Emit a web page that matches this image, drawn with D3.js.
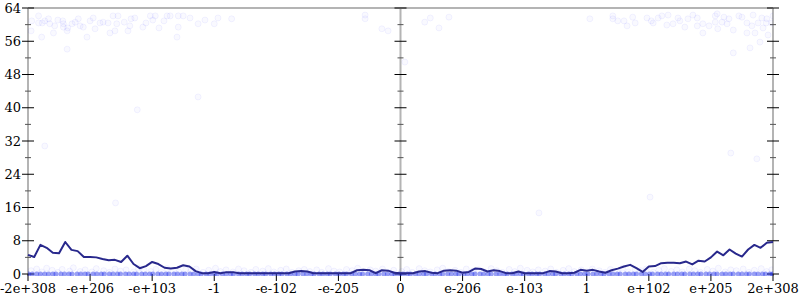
<!DOCTYPE html>
<html>
<head>
<meta charset="utf-8">
<script src="https://cdn.jsdelivr.net/npm/d3@7"></script>
<style>
  body { margin: 0; background: #fff; }
  svg text { font-family: "DejaVu Serif", serif; font-size: 13px; fill: #000; }
</style>
</head>
<body>
<svg id="content" width="800" height="300"></svg>
<script>
let xTickLabels = ["-2e+308", "-e+206", "-e+103", "-1", "-e-102", "-e-205", "0",
  "e-206", "e-103", "1", "e+102", "e+205", "2e+308"];
let xTickPos = [-6, -5, -4, -3, -2, -1, 0, 1, 2, 3, 4, 5, 6];
let yMajor = [0, 8, 16, 24, 32, 40, 48, 56, 64];
let yMinor = [4, 12, 20, 28, 36, 44, 52, 60];

// averaged error, evenly spaced from -2e+308 to 2e+308
let lineErr = [4.6, 4.1, 7.0, 6.3, 5.1, 5.0, 7.7, 5.8, 5.5, 4.1,
  4.1, 4.0, 3.6, 3.3, 3.4, 2.9, 4.4, 2.4, 1.4, 1.9,
  2.9, 2.4, 1.5, 1.3, 1.5, 2.1, 1.8, 0.7, 0.2, 0.2,
  0.5, 0.2, 0.45, 0.45, 0.2, 0.2, 0.2, 0.2, 0.2, 0.2,
  0.2, 0.2, 0.2, 0.6, 0.7, 0.6, 0.2, 0.2, 0.2, 0.2,
  0.2, 0.2, 0.2, 0.9, 1.0, 0.9, 0.2, 0.9, 0.8, 0.3,
  0.2, 0.2, 0.2, 0.6, 0.7, 0.3, 0.2, 0.8, 0.9, 0.8,
  0.3, 0.5, 1.3, 1.2, 0.6, 0.9, 0.7, 0.2, 0.2, 0.6,
  0.2, 0.2, 0.2, 0.2, 0.7, 0.6, 0.2, 0.2, 0.3, 1.0,
  0.8, 1.0, 0.6, 0.3, 0.9, 1.3, 1.8, 2.2, 1.4, 0.5,
  1.8, 1.9, 2.6, 2.7, 2.7, 2.6, 3.0, 2.3, 3.2, 3.0,
  4.0, 5.4, 4.5, 5.9, 4.9, 4.2, 5.9, 7.0, 6.3, 7.5, 7.7];

// sample points [position, bits of error]
let highPts = [[-5.94, 60.9], [-5.83, 62.1], [-5.83, 60.4], [-5.77, 60.4], [-5.73, 60.9],
  [-5.67, 61.4], [-5.65, 60.2], [-5.57, 59.7], [-5.59, 58.0], [-5.52, 61.1], [-5.44, 60.9],
  [-5.43, 60.2], [-5.43, 59.4], [-5.37, 58.5], [-5.36, 59.2], [-5.29, 60.2], [-5.24, 60.6],
  [-5.19, 61.4], [-5.16, 59.7], [-5.11, 59.4], [-5.05, 57.0], [-5.00, 60.9], [-4.95, 61.6],
  [-4.92, 59.0], [-4.84, 60.4], [-4.79, 60.6], [-4.71, 60.4], [-4.68, 58.0], [-4.63, 62.1],
  [-4.60, 58.5], [-4.57, 60.2], [-4.55, 62.1], [-4.45, 60.6], [-4.39, 58.5], [-4.36, 59.7],
  [-4.34, 61.4], [-4.28, 61.6], [-4.15, 59.4], [-4.10, 60.4], [-4.03, 62.1], [-3.99, 61.1],
  [-3.95, 62.1], [-3.89, 59.2], [-3.81, 60.9], [-3.76, 62.1], [-3.71, 62.1], [-3.60, 57.0],
  [-3.58, 59.4], [-3.50, 62.1], [-3.39, 61.6], [-5.95, 58.5], [-5.78, 57.0], [-5.37, 54.1],
  [-3.26, 60.2], [-3.15, 61.1], [-2.94, 61.6], [-2.72, 61.4], [-3.00, 60.2], [-3.58, 62.1],
  [-0.57, 62.3], [-0.57, 61.4], [-0.30, 59.0], [-0.20, 58.5], [0.07, 51.0], [0.39, 60.6],
  [0.48, 61.6], [0.62, 59.2], [0.78, 61.8],
  [3.42, 61.4], [3.50, 60.9], [3.60, 60.9], [3.65, 59.7], [3.74, 61.8], [3.78, 60.4],
  [3.97, 61.6], [4.04, 60.9], [4.07, 60.4], [4.15, 61.6], [4.21, 62.1], [4.31, 62.3],
  [4.29, 59.9], [4.39, 60.2], [4.47, 61.6], [4.50, 60.9], [4.58, 59.4], [4.63, 61.4],
  [4.71, 62.3], [4.78, 61.6], [4.78, 59.7], [4.87, 60.2], [4.87, 58.0], [4.97, 59.7],
  [5.07, 62.1], [5.10, 62.6], [5.07, 60.6], [5.11, 59.0], [5.18, 60.6], [5.21, 61.8],
  [5.26, 60.2], [5.29, 61.4], [5.36, 58.7], [5.36, 53.2], [5.45, 62.1], [5.50, 61.8],
  [5.58, 60.4], [5.58, 58.0], [5.63, 54.4], [5.66, 59.7], [5.68, 62.3], [5.71, 58.0],
  [5.76, 60.4], [5.82, 61.6], [5.84, 59.2], [5.90, 61.4], [5.92, 57.5], [5.79, 55.8],
  [5.98, 60.4], [6.0, 62.1], [5.89, 60.4], [3.05, 61.4], [3.42, 62.1]];

let strayPts = [[-5.73, 30.8], [-4.59, 17.1], [-4.24, 39.5], [-3.26, 42.6],
  [2.23, 14.7], [4.02, 18.5], [5.32, 29.1], [5.74, 27.7]];

let lowPts = [[-5.95, 0.8], [-5.86, 1.2], [-5.78, 0.5], [-5.7, 1.4], [-5.61, 0.9], [-5.52, 0.4],
  [-5.45, 1.1], [-5.33, 0.7], [-5.27, 1.5], [-5.16, 0.6], [-5.08, 1.0], [-4.97, 0.5],
  [-4.9, 1.3], [-4.78, 0.8], [-4.69, 0.4], [-4.6, 1.2], [-4.51, 0.7], [-4.42, 1.0],
  [-4.3, 0.5], [-4.22, 1.4], [-4.13, 0.9], [-4.02, 0.6], [-3.94, 1.1], [-3.85, 0.4],
  [-3.76, 1.3], [-3.66, 0.8], [-3.57, 0.5], [-3.46, 1.0], [-3.38, 0.7], [-3.29, 1.2],
  [-3.18, 0.4], [-3.09, 0.9], [-2.98, 1.4], [-2.9, 0.6], [-2.81, 1.0], [-2.7, 0.5],
  [-2.61, 1.2], [-2.52, 0.8], [-2.41, 0.4], [-2.33, 1.1], [-2.22, 0.7], [-2.13, 1.3],
  [-2.04, 0.5], [-1.93, 0.9], [-1.84, 1.2], [-1.75, 0.4], [-1.64, 0.8], [-1.55, 1.1],
  [-1.46, 0.6], [-1.35, 1.0], [-1.27, 0.4], [-1.16, 1.3], [-1.07, 0.7], [-0.98, 0.5],
  [-0.87, 1.1], [-0.78, 0.8], [-0.69, 1.4], [-0.58, 0.5], [-0.49, 1.0], [-0.4, 0.7],
  [-0.29, 1.2], [-0.2, 0.4], [-0.11, 0.9], [0.02, 0.6], [0.1, 1.1], [0.19, 0.4],
  [0.3, 1.3], [0.39, 0.8], [0.48, 0.5], [0.59, 1.0], [0.68, 1.4], [0.77, 0.6],
  [0.88, 0.9], [0.97, 0.4], [1.06, 1.2], [1.17, 0.7], [1.26, 1.0], [1.35, 0.5],
  [1.46, 1.3], [1.55, 0.8], [1.64, 0.4], [1.75, 1.1], [1.84, 0.6], [1.93, 1.4],
  [2.04, 0.9], [2.13, 0.5], [2.22, 1.0], [2.33, 0.7], [2.42, 1.2], [2.51, 0.4],
  [2.62, 0.9], [2.71, 1.3], [2.8, 0.6], [2.91, 1.0], [3.0, 0.5], [3.09, 1.2],
  [3.2, 0.8], [3.29, 0.4], [3.38, 1.1], [3.49, 0.7], [3.58, 1.4], [3.67, 0.5],
  [3.78, 1.0], [3.87, 0.8], [3.96, 1.2], [4.07, 0.4], [4.16, 0.9], [4.25, 1.3],
  [4.36, 0.6], [4.45, 1.0], [4.54, 0.5], [4.65, 1.2], [4.74, 0.8], [4.83, 0.4],
  [4.94, 1.1], [5.03, 0.7], [5.12, 1.4], [5.23, 0.5], [5.32, 1.0], [5.41, 0.8],
  [5.52, 1.2], [5.61, 0.4], [5.7, 0.9], [5.81, 1.3], [5.9, 0.6], [5.98, 1.0]];

// points with no error
let zeroPos = [-5.99, -5.93, -5.86, -5.8, -5.73, -5.67, -5.6, -5.55, -5.47, -5.41, -5.34, -5.29,
  -5.21, -5.15, -5.08, -5.03, -4.95, -4.89, -4.82, -4.77, -4.69, -4.63, -4.56, -4.51,
  -4.43, -4.37, -4.3, -4.25, -4.17, -4.11, -4.04, -3.99, -3.91, -3.85, -3.78, -3.73,
  -3.65, -3.59, -3.52, -3.47, -3.39, -3.33, -3.26, -3.21, -3.13, -3.07, -3.0, -2.95,
  -2.87, -2.81, -2.74, -2.69, -2.61, -2.55, -2.48, -2.43, -2.35, -2.29, -2.22, -2.17,
  -2.09, -2.03, -1.96, -1.91, -1.83, -1.77, -1.7, -1.65, -1.57, -1.51, -1.44, -1.39,
  -1.31, -1.25, -1.18, -1.13, -1.05, -0.99, -0.92, -0.87, -0.79, -0.73, -0.66, -0.61,
  -0.53, -0.47, -0.4, -0.35, -0.27, -0.21, -0.14, -0.09, -0.02, 0.04, 0.11, 0.16,
  0.24, 0.3, 0.37, 0.42, 0.5, 0.56, 0.63, 0.68, 0.76, 0.82, 0.89, 0.94, 1.02, 1.08,
  1.15, 1.2, 1.28, 1.34, 1.41, 1.46, 1.54, 1.6, 1.67, 1.72, 1.8, 1.86, 1.93, 1.98,
  2.06, 2.12, 2.19, 2.24, 2.32, 2.38, 2.45, 2.5, 2.58, 2.64, 2.71, 2.76, 2.84, 2.9,
  2.97, 3.02, 3.1, 3.16, 3.23, 3.28, 3.36, 3.42, 3.49, 3.54, 3.62, 3.68, 3.75, 3.8,
  3.88, 3.94, 4.01, 4.06, 4.14, 4.2, 4.27, 4.32, 4.4, 4.46, 4.53, 4.58, 4.66, 4.72,
  4.79, 4.84, 4.92, 4.98, 5.05, 5.1, 5.18, 5.24, 5.31, 5.36, 5.44, 5.5, 5.57, 5.62,
  5.7, 5.76, 5.83, 5.88, 5.95, 5.99];

function drawChart() {
  let svg = d3.select("#content");
  let x = d3.scaleLinear().domain([-6, 6]).range([28, 773]);
  let y = d3.scaleLinear().domain([0, 64]).range([274, 8]);
  let xi = d3.scaleLinear().domain([0, lineErr.length - 1]).range([x(-6), x(6)]);

  svg.append("clipPath").attr("id", "plotclip")
    .append("rect").attr("x", 28).attr("y", 8).attr("width", 745).attr("height", 268);

  // frame lines
  let frame = svg.append("g").attr("stroke", "#b4b4b4").attr("stroke-width", 2);
  frame.append("line").attr("x1", x(-6)).attr("x2", x(6)).attr("y1", y(64)).attr("y2", y(64));
  [-6, 0, 6].forEach(function (v) {
    frame.append("line").attr("x1", x(v)).attr("x2", x(v)).attr("y1", y(64)).attr("y2", y(0) + 2);
  });

  // y ticks on the three vertical axes
  let ticks = svg.append("g");
  [-6, 0, 6].forEach(function (v) {
    ticks.selectAll(null).data(yMajor).join("line")
      .attr("x1", x(v) - 6).attr("x2", x(v) + 6)
      .attr("y1", (d) => y(d)).attr("y2", (d) => y(d))
      .attr("stroke", "#000");
    ticks.selectAll(null).data(yMinor).join("line")
      .attr("x1", x(v) - 3).attr("x2", x(v) + 3)
      .attr("y1", (d) => y(d)).attr("y2", (d) => y(d))
      .attr("stroke", "#555");
  });
  ticks.selectAll(null).data(yMajor).join("text")
    .attr("x", x(-6) - 7).attr("y", (d) => y(d) + 4.5)
    .attr("text-anchor", "end")
    .text((d) => d);

  // x ticks
  ticks.selectAll(null).data(xTickPos).join("line")
    .attr("x1", (d) => x(d)).attr("x2", (d) => x(d))
    .attr("y1", y(0)).attr("y2", y(0) + 7)
    .attr("stroke", "#000");
  ticks.selectAll(null).data(xTickPos).join("text")
    .attr("x", (d) => x(d)).attr("y", 293)
    .attr("text-anchor", "middle")
    .text((d, i) => xTickLabels[i]);

  let pts = svg.append("g").attr("clip-path", "url(#plotclip)");
  pts.selectAll(null).data(highPts.concat(strayPts, lowPts)).join("circle")
    .attr("cx", (d) => x(d[0])).attr("cy", (d) => y(d[1])).attr("r", 3)
    .attr("fill", "#0000ff").attr("fill-opacity", 0.025)
    .attr("stroke", "#0000ff").attr("stroke-opacity", 0.05);
  pts.selectAll(null).data(zeroPos).join("circle")
    .attr("cx", (d) => x(d)).attr("cy", y(0)).attr("r", 2.5)
    .attr("fill", "#1f2fe8").attr("fill-opacity", 0.45);

  let line = d3.line().x((d, i) => xi(i)).y((d) => y(d));
  svg.append("path").datum(lineErr)
    .attr("d", line)
    .attr("fill", "none")
    .attr("stroke", "#28288c")
    .attr("stroke-width", 2)
    .attr("stroke-linejoin", "round");
}

drawChart();
</script>
</body>
</html>
